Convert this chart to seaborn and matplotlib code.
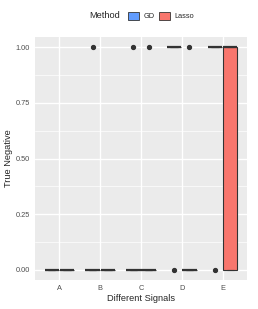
import numpy as np
import pandas as pd
import matplotlib
matplotlib.use("Agg")
import matplotlib.pyplot as plt
import seaborn as sns
from matplotlib.patches import Patch

# ---- data (runs per signal = 20, value is 0/1) ----
signals = ["A", "B", "C", "D", "E"]
methods = ["GD", "Lasso"]
n_runs = 20
ones_gd = [0, 1, 1, 19, 19]      # how many runs gave 1 for GD
ones_lasso = [0, 0, 1, 1, 12]    # how many runs gave 1 for Lasso
colors = {"GD": "#619CFF", "Lasso": "#F8766D"}

rows = []
for sig, g, l in zip(signals, ones_gd, ones_lasso):
    for meth, k in (("GD", g), ("Lasso", l)):
        vals = [1.0] * k + [0.0] * (n_runs - k)
        for v in vals:
            rows.append({"signal": sig, "method": meth, "tn": v})
df = pd.DataFrame(rows)

# ---- figure ----
sns.set_style("white")
plt.rcParams["font.family"] = ["Liberation Sans", "DejaVu Sans"]

fig = plt.figure(figsize=(2.58, 3.09), dpi=100)
ax = fig.add_axes([35 / 258, 1 - 280 / 309, 212 / 258, 243 / 309])
ax.set_facecolor("#EBEBEB")

# grid like ggplot
for y in [0.125, 0.375, 0.625, 0.875]:
    ax.axhline(y, color="white", lw=0.5, zorder=0)
for y in [0, 0.25, 0.5, 0.75, 1.0]:
    ax.axhline(y, color="white", lw=1.0, zorder=0)
for x in range(len(signals)):
    ax.axvline(x, color="white", lw=1.0, zorder=0)

sns.boxplot(data=df, x="signal", y="tn", hue="method", order=signals,
            hue_order=methods, palette=colors, saturation=1, width=0.75, gap=0.05,
            linecolor="#333333", linewidth=0.8, whis=1.5,
            medianprops=dict(color="#333333", linewidth=1.6),
            flierprops=dict(marker="o", markerfacecolor="#333333",
                            markeredgecolor="#333333", markersize=2.8),
            legend=False, ax=ax, zorder=2)

ax.set_xlim(-0.6, 4.6)
ax.set_ylim(-0.045, 1.045)
ax.set_yticks([0, 0.25, 0.5, 0.75, 1.0])
ax.set_yticklabels(["0.00", "0.25", "0.50", "0.75", "1.00"])
ax.tick_params(axis="both", labelsize=5.3, labelcolor="#4D4D4D",
               color="#333333", length=2, width=0.5, pad=1.5)
for s in ax.spines.values():
    s.set_visible(False)
ax.grid(False)
ax.set_xlabel("Different Signals", fontsize=6.7, labelpad=1.5)
ax.set_ylabel("True Negative", fontsize=6.7, labelpad=2)

# legend on top
fig.text(89 / 258, 1 - 16 / 309, "Method", fontsize=6.7, va="center", ha="left")
handles = [Patch(facecolor=colors[m], edgecolor="#333333", linewidth=0.6) for m in methods]
fig.legend(handles, methods, loc="center left", bbox_to_anchor=(124 / 258, 1 - 16 / 309),
           ncol=2, frameon=False, fontsize=5.3, handlelength=1.6, handleheight=1.4,
           handletextpad=0.5, columnspacing=0.6, borderpad=0)

fig.savefig("out.png", dpi=100)
